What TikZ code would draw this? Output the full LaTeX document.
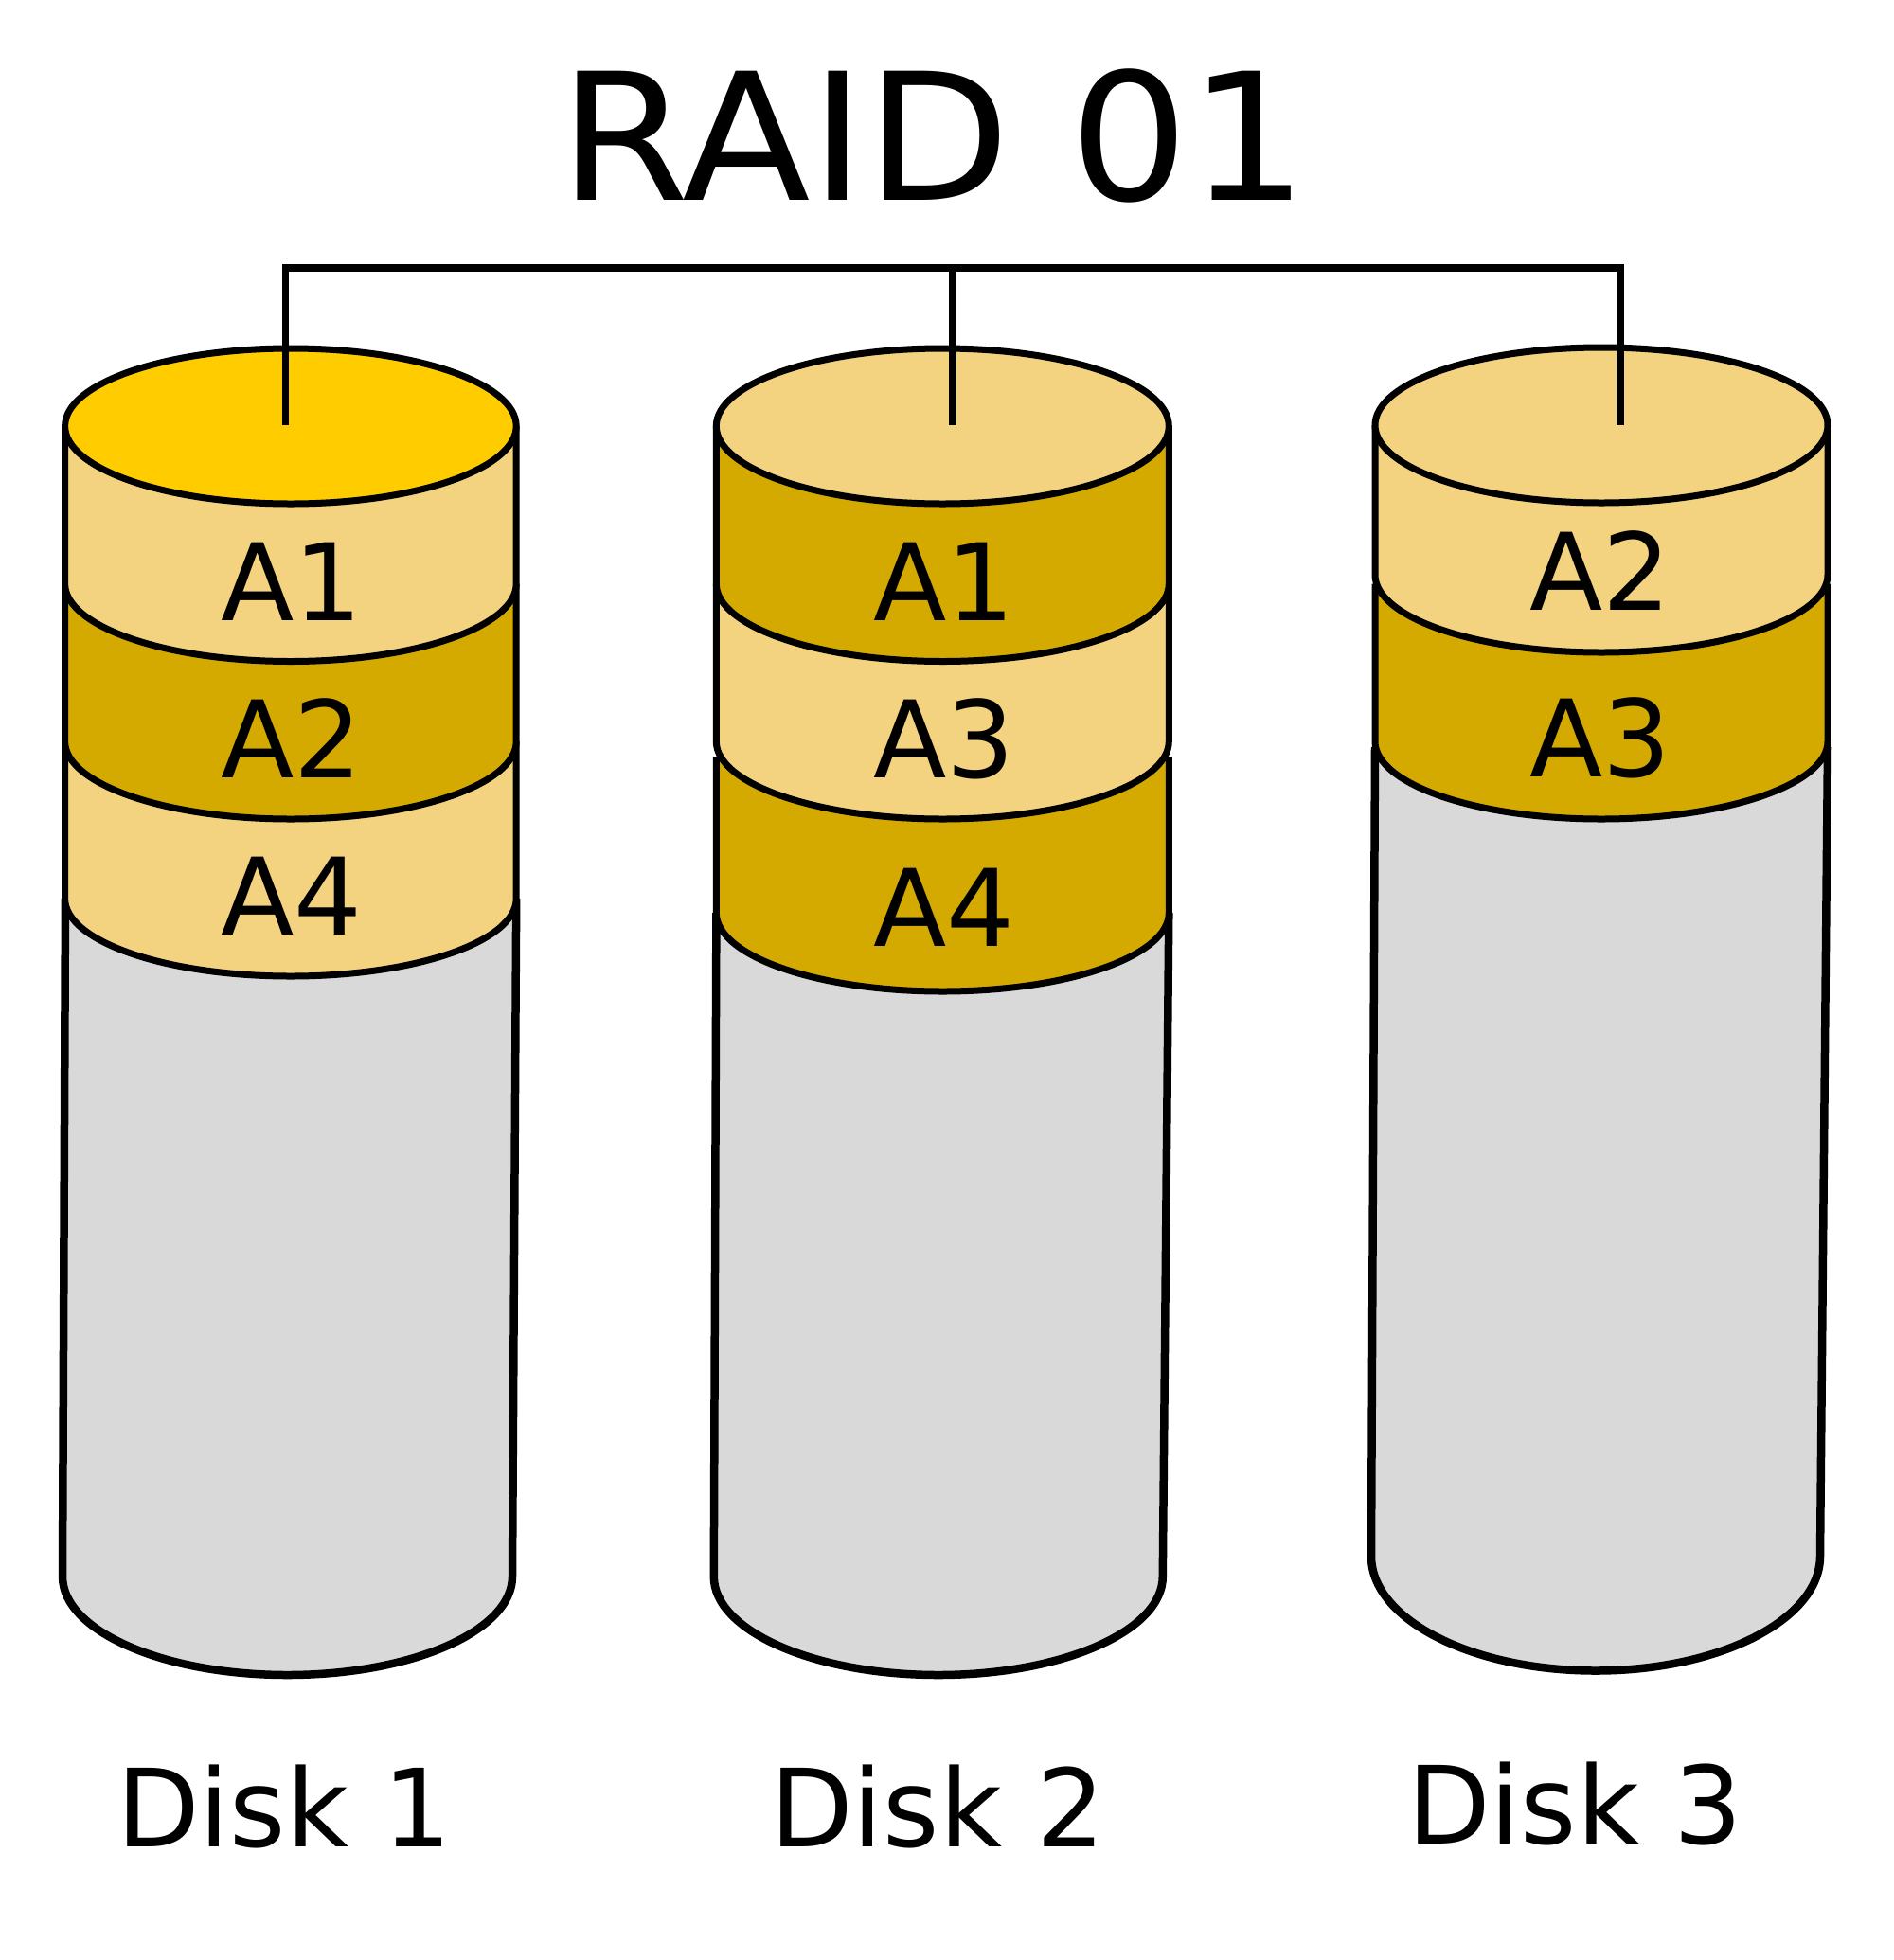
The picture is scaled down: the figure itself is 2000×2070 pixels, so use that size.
\documentclass[tikz,border=0pt]{standalone}
\usepackage{fontspec}
\setmainfont{DejaVu Sans}
\definecolor{topyellow}{HTML}{FFCC00}
\definecolor{lightband}{HTML}{F3D37F}
\definecolor{darkband}{HTML}{D4AA00}
\definecolor{bodygray}{HTML}{D9D9D9}
\newcommand\bandseg[6]{%
  \fill[#6] ({#1-#2},{-#3}) -- ({#1-#2},{-#4}) arc[start angle=180,end angle=360,x radius=#2pt,y radius=#5pt] -- ({#1+#2},{-#3}) arc[start angle=0,end angle=180,x radius=#2pt,y radius=#5pt] -- cycle;
  \draw[outline] ({#1-#2},{-#3}) -- ({#1-#2},{-#4}) arc[start angle=180,end angle=360,x radius=#2pt,y radius=#5pt] -- ({#1+#2},{-#3});}
\newcommand\bodyseg[8]{% xl_top, xl_bot, ytop, ybot, rx, ry, xr_top, name
  \fill[bodygray] (#1,{-#3}) -- (#2,{-#4}) arc[start angle=180,end angle=360,x radius=#5pt,y radius=#6pt] -- (#7,{-#3}) -- cycle;
  \draw[bodyline] (#1,{-#3}) -- (#2,{-#4}) arc[start angle=180,end angle=360,x radius=#5pt,y radius=#6pt] -- (#7,{-#3});}
\begin{document}
\begin{tikzpicture}[x=1pt,y=1pt,
  outline/.style={draw=black,line width=7pt,line join=round},
  bodyline/.style={draw=black,line width=8.5pt,line join=round},
  blocklabel/.style={anchor=base,inner sep=0pt,font=\fontsize{113}{113}\selectfont},
  disklabel/.style={anchor=base,inner sep=0pt,font=\fontsize{114}{114}\selectfont},
  titlelabel/.style={anchor=base,inner sep=0pt,font=\fontsize{187}{187}\selectfont},
  wire/.style={draw=black,line width=7.5pt}]
\useasboundingbox (0,0) rectangle (2000,-2070);
\fill[white] (0,0) rectangle (2000,-2070);

% ---- Disk 1 ----
\bodyseg{69}{66}{949}{1665}{237.5}{104}{545.2}{d1}
\bandseg{306.9}{238.3}{783}{949}{82}{lightband}
\bandseg{306.9}{238.3}{616.5}{783}{82}{darkband}
\bandseg{306.9}{238.3}{450}{616.5}{82}{lightband}
\draw[outline,fill=topyellow] (306.9,-450) ellipse [x radius=238.3pt,y radius=82pt];
\node[blocklabel] (d1a1) at (308,-655) {A1};
\node[blocklabel] (d1a2) at (308,-821) {A2};
\node[blocklabel] (d1a4) at (308,-987) {A4};

% ---- Disk 2 ----
\bodyseg{756.4}{753.8}{964}{1665}{237}{104}{1234.3}{d2}
\bandseg{995.3}{239}{799}{964}{83}{darkband}
\bandseg{995.3}{239}{616.5}{783}{82}{lightband}
\bandseg{995.3}{239}{450}{616.5}{82}{darkband}
\draw[outline,fill=lightband] (995.3,-450) ellipse [x radius=239pt,y radius=82pt];
\node[blocklabel] (d2a1) at (997,-655) {A1};
\node[blocklabel] (d2a3) at (997,-821) {A3};
\node[blocklabel] (d2a4) at (997,-999) {A4};

% ---- Disk 3 ----
\bodyseg{1452}{1448}{789}{1643.5}{237}{121}{1930}{d3}
\bandseg{1691}{239}{616.5}{783}{82}{darkband}
\bandseg{1691}{239}{449}{607}{82}{lightband}
\draw[outline,fill=lightband] (1691,-449) ellipse [x radius=239pt,y radius=82pt];
\node[blocklabel] (d3a2) at (1690,-644) {A2};
\node[blocklabel] (d3a3) at (1690,-820) {A3};

% ---- Connector ----
\coordinate (t1) at (301.7,-449);
\coordinate (t2) at (1006,-449);
\coordinate (t3) at (1711,-449);
\coordinate (j1) at (301.7,-283);
\coordinate (j2) at (1006,-283);
\coordinate (j3) at (1711,-283);
\draw[wire] (t1) -- (j1) -- (j3) -- (t3);
\draw[wire] (j2) -- (t2);

% ---- Titles ----
\node[titlelabel] (title) at (986,-211) {\scalebox{1.06}[1]{RAID 01}};
\node[disklabel] (lab1) at (300,-1950) {Disk 1};
\node[disklabel] (lab2) at (990,-1950) {Disk 2};
\node[disklabel] (lab3) at (1663,-1947) {Disk 3};
\end{tikzpicture}
\end{document}
